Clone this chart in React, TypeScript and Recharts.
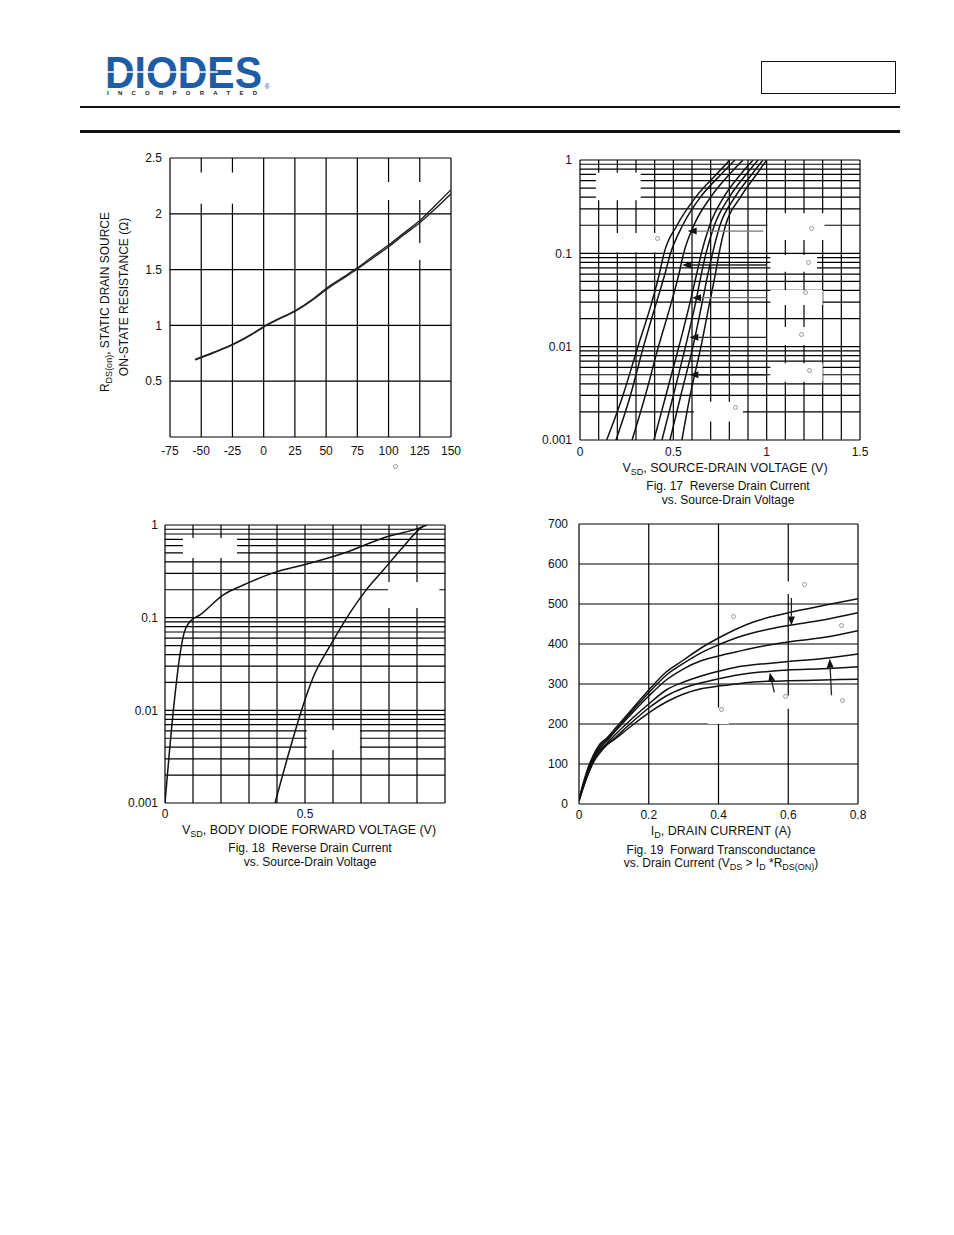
import React from 'react'
import { LineChart, Line, XAxis, YAxis, CartesianGrid, ReferenceArea, ReferenceLine } from 'recharts'

const FONT = '"Liberation Sans", Arial, Helvetica, sans-serif'
const INK = '#111'

// ---- R_DS(on) vs temperature (top left) ----
const tempC = [-55, -40, -25, -10, 0, 10, 25, 40, 50, 62, 75, 87, 100, 112, 125, 137, 150]
const rdsUpper = [0.695, 0.76, 0.83, 0.92, 0.99, 1.05, 1.13, 1.24, 1.33, 1.42, 1.515, 1.615, 1.72, 1.825, 1.94, 2.07, 2.215]
const rdsLower = [0.69, 0.755, 0.825, 0.915, 0.985, 1.045, 1.125, 1.235, 1.32, 1.41, 1.505, 1.6, 1.705, 1.81, 1.92, 2.04, 2.18]
const tempTicks = [-75, -50, -25, 0, 25, 50, 75, 100, 125, 150]
const rdsTicks = [0, 0.5, 1, 1.5, 2, 2.5]

// ---- log axis ticks shared by Fig 17 / Fig 18 ----
const logTicks = [
  0.001, 0.002, 0.003, 0.004, 0.005, 0.006, 0.007, 0.008, 0.009,
  0.01, 0.02, 0.03, 0.04, 0.05, 0.06, 0.07, 0.08, 0.09,
  0.1, 0.2, 0.3, 0.4, 0.5, 0.6, 0.7, 0.8, 0.9, 1,
]
const logLabels = [1, 0.1, 0.01, 0.001]

// ---- Fig 17: reverse drain current vs source-drain voltage ----
const isLevels = [0.001, 0.003, 0.01, 0.03, 0.06, 0.1, 0.2, 0.4, 0.7, 1]
const vsd1 = [0.143, 0.23, 0.31, 0.385, 0.425, 0.45, 0.52, 0.62, 0.73, 0.803]
const vsd2 = [0.193, 0.27, 0.34, 0.41, 0.455, 0.485, 0.55, 0.645, 0.755, 0.83]
const vsd3 = [0.279, 0.35, 0.42, 0.49, 0.53, 0.555, 0.61, 0.7, 0.8, 0.873]
const vsd4 = [0.396, 0.46, 0.53, 0.59, 0.625, 0.65, 0.695, 0.77, 0.86, 0.927]
const vsd5 = [0.439, 0.5, 0.565, 0.62, 0.65, 0.675, 0.72, 0.8, 0.89, 0.954]
const vsd6 = [0.482, 0.54, 0.605, 0.655, 0.685, 0.71, 0.75, 0.83, 0.92, 0.98]
const vsd7 = [0.546, 0.59, 0.648, 0.695, 0.725, 0.745, 0.78, 0.86, 0.945, 1.0]
const vsdTicks = [0, 0.1, 0.2, 0.3, 0.4, 0.5, 0.6, 0.7, 0.8, 0.9, 1, 1.1, 1.2, 1.3, 1.4, 1.5]
const vsdLabels = [0, 0.5, 1, 1.5]

// white-outs where the legend text was removed: [x1, x2, y1, y2]
const fig17Masks = [
  [0.085, 0.325, 0.37, 0.73],
  [0.12, 0.43, 0.103, 0.165],
  [1.005, 1.31, 0.139, 0.268],
  [1.02, 1.27, 0.0636, 0.096],
  [1.02, 1.3, 0.0279, 0.0405],
  [1.02, 1.25, 0.0104, 0.0162],
  [1.02, 1.3, 0.00422, 0.00664],
  [0.61, 0.873, 0.00158, 0.00257],
]
const fig17Arrows = [
  { from: [0.982, 0.173], to: [0.577, 0.173], color: '#777' },
  { from: [1.0, 0.075], to: [0.547, 0.075], color: '#222' },
  { from: [1.0, 0.0335], to: [0.6, 0.0335], color: '#777' },
  { from: [1.0, 0.0126], to: [0.586, 0.0126], color: '#222' },
  { from: [1.0, 0.005], to: [0.586, 0.005], color: '#222' },
]

// ---- Fig 18: body diode forward voltage ----
const diodeAx = [0, 0.03, 0.054, 0.068, 0.089, 0.125, 0.208, 0.28, 0.4, 0.494, 0.637, 0.792, 0.905, 0.935]
const diodeAy = [0.001, 0.0101, 0.041, 0.068, 0.091, 0.107, 0.176, 0.225, 0.314, 0.37, 0.495, 0.748, 0.92, 1.0]
const diodeBx = [0.393, 0.446, 0.488, 0.53, 0.595, 0.637, 0.714, 0.78, 0.851, 0.905, 0.929]
const diodeBy = [0.001, 0.0038, 0.0101, 0.023, 0.053, 0.087, 0.191, 0.327, 0.584, 0.88, 1.0]
const vfTicks = [0, 0.1, 0.2, 0.3, 0.4, 0.5, 0.6, 0.7, 0.8, 0.9, 1]
const vfLabels = [0, 0.5]
const fig18Masks = [
  [0.064, 0.257, 0.44, 0.724],
  [0.796, 0.98, 0.127, 0.243],
  [0.506, 0.696, 0.00374, 0.00615],
]

// ---- Fig 19: forward transconductance vs drain current ----
const idA = [0, 0.01, 0.02, 0.03, 0.04, 0.06, 0.08, 0.1, 0.15, 0.2, 0.25, 0.3, 0.35, 0.4, 0.45, 0.5, 0.55, 0.6, 0.7, 0.8]
const gfs1 = [10, 45, 75, 100, 120, 150, 165, 185, 235, 285, 330, 360, 390, 415, 437, 455, 468, 478, 496, 513]
const gfs2 = [10, 42, 70, 95, 115, 145, 162, 180, 230, 278, 322, 352, 378, 398, 415, 428, 438, 446, 460, 478]
const gfs3 = [10, 40, 67, 92, 112, 140, 158, 178, 225, 270, 310, 338, 358, 370, 380, 390, 398, 405, 416, 433]
const gfs4 = [8, 38, 64, 88, 108, 135, 152, 170, 212, 250, 285, 305, 320, 332, 342, 348, 352, 356, 364, 375]
const gfs5 = [8, 36, 62, 85, 105, 130, 148, 163, 203, 240, 270, 290, 303, 313, 322, 328, 332, 335, 338, 343]
const gfs6 = [8, 35, 60, 82, 102, 128, 148, 160, 195, 228, 255, 275, 288, 295, 300, 305, 307, 308, 310, 312]
const idTicks = [0, 0.2, 0.4, 0.6, 0.8]
const gfsTicks = [0, 100, 200, 300, 400, 500, 600, 700]
const fig19Masks = [
  [0.57, 0.7, 525, 556],
  [0.37, 0.43, 200, 241],
  [0.57, 0.63, 238, 271],
]
const fig19Arrows = [
  { from: [0.609, 515], to: [0.609, 446], color: '#222' },
  { from: [0.56, 279], to: [0.547, 329], color: '#222' },
  { from: [0.724, 272], to: [0.719, 363], color: '#222' },
]

// leftover degree signs from the removed labels
const degreeMarks = [
  [395, 466], [657, 238], [811, 228], [808, 262], [805, 292], [801, 334], [809, 370], [735, 407],
  [733, 616], [804, 584], [841, 625], [721, 709], [785, 696], [842, 700],
]

const toPts = (xs: number[], ys: number[]) => xs.map((x, i) => ({ x, y: ys[i] }))

const tickStyle = { fill: INK, fontSize: 12, fontFamily: FONT }
const GRID_W = 1.2

function arrowShape(color: string) {
  return (p: any) => {
    const { x1, y1, x2, y2 } = p
    const a = Math.atan2(y2 - y1, x2 - x1)
    const len = 9
    const half = 3.5
    const bx = x2 - len * Math.cos(a)
    const by = y2 - len * Math.sin(a)
    const px = -Math.sin(a) * half
    const py = Math.cos(a) * half
    return (
      <g>
        <line x1={x1} y1={y1} x2={bx} y2={by} stroke={color} strokeWidth={1.3} />
        <polygon points={`${x2},${y2} ${bx + px},${by + py} ${bx - px},${by - py}`} fill="#111" />
      </g>
    )
  }
}

function masks(list: number[][]) {
  return list.map((m, i) => (
    <ReferenceArea key={'m' + i} x1={m[0]} x2={m[1]} y1={m[2]} y2={m[3]} fill="#fff" fillOpacity={1} stroke="none" ifOverflow="hidden" />
  ))
}

function arrows(list: { from: number[]; to: number[]; color: string }[]) {
  return list.map((a, i) => (
    <ReferenceLine
      key={'a' + i}
      segment={[{ x: a.from[0], y: a.from[1] }, { x: a.to[0], y: a.to[1] }]}
      shape={arrowShape(a.color)}
    />
  ))
}

function RdsChart() {
  const up = toPts(tempC, rdsUpper)
  const lo = toPts(tempC, rdsLower)
  return (
    <LineChart width={331} height={319} margin={{ top: 10, right: 10, bottom: 0, left: 0 }}>
      <CartesianGrid stroke="#000" strokeWidth={GRID_W} />
      <XAxis type="number" dataKey="x" domain={[-75, 150]} ticks={tempTicks} interval={0} height={30}
        axisLine={false} tickLine={false} tickSize={0} tickMargin={9} tick={tickStyle} allowDataOverflow />
      <YAxis type="number" dataKey="y" domain={[0, 2.5]} ticks={rdsTicks} interval={0} width={40}
        axisLine={false} tickLine={false} tickSize={0} tickMargin={8} tick={tickStyle}
        tickFormatter={(v) => (v === 0 ? '' : String(v))} allowDataOverflow />
      {masks([[-62, -12, 2.09, 2.37], [92, 135, 2.124, 2.285], [118, 132, 1.586, 1.738]])}
      <Line data={lo} dataKey="y" type="monotone" stroke="#222" strokeWidth={1.4} dot={false} isAnimationActive={false} />
      <Line data={up} dataKey="y" type="monotone" stroke="#222" strokeWidth={1.4} dot={false} isAnimationActive={false} />
    </LineChart>
  )
}

function Fig17() {
  const curves = [vsd1, vsd2, vsd3, vsd4, vsd5, vsd6, vsd7]
  return (
    <LineChart width={330} height={320} margin={{ top: 10, right: 10, bottom: 0, left: 0 }}>
      <CartesianGrid stroke="#000" strokeWidth={GRID_W} />
      <XAxis type="number" dataKey="x" domain={[0, 1.5]} ticks={vsdTicks} interval={0} height={30}
        axisLine={false} tickLine={false} tickSize={0} tickMargin={7} tick={tickStyle}
        tickFormatter={(v) => (vsdLabels.includes(v) ? String(v) : '')} allowDataOverflow />
      <YAxis type="number" dataKey="y" scale="log" domain={[0.001, 1]} ticks={logTicks} interval={0} width={40}
        axisLine={false} tickLine={false} tickSize={0} tickMargin={8} tick={tickStyle}
        tickFormatter={(v) => (logLabels.includes(v) ? String(v) : '')} allowDataOverflow />
      {masks(fig17Masks)}
      {curves.map((c, i) => (
        <Line key={i} data={toPts(c, isLevels)} dataKey="y" type="monotone" stroke="#111" strokeWidth={1.5}
          dot={false} isAnimationActive={false} />
      ))}
      {arrows(fig17Arrows)}
    </LineChart>
  )
}

function Fig18() {
  return (
    <LineChart width={330} height={318} margin={{ top: 10, right: 10, bottom: 0, left: 0 }}>
      <CartesianGrid stroke="#000" strokeWidth={GRID_W} />
      <XAxis type="number" dataKey="x" domain={[0, 1]} ticks={vfTicks} interval={0} height={30}
        axisLine={false} tickLine={false} tickSize={0} tickMargin={6} tick={tickStyle}
        tickFormatter={(v) => (vfLabels.includes(v) ? String(v) : '')} allowDataOverflow />
      <YAxis type="number" dataKey="y" scale="log" domain={[0.001, 1]} ticks={logTicks} interval={0} width={40}
        axisLine={false} tickLine={false} tickSize={0} tickMargin={7} tick={tickStyle}
        tickFormatter={(v) => (logLabels.includes(v) ? String(v) : '')} allowDataOverflow />
      {masks(fig18Masks)}
      <Line data={toPts(diodeAx, diodeAy)} dataKey="y" type="monotone" stroke="#111" strokeWidth={1.5} dot={false} isAnimationActive={false} />
      <Line data={toPts(diodeBx, diodeBy)} dataKey="y" type="monotone" stroke="#111" strokeWidth={1.5} dot={false} isAnimationActive={false} />
    </LineChart>
  )
}

function Fig19() {
  const curves = [gfs1, gfs2, gfs3, gfs4, gfs5, gfs6]
  return (
    <LineChart width={329} height={320} margin={{ top: 10, right: 10, bottom: 0, left: 0 }}>
      <CartesianGrid stroke="#000" strokeWidth={GRID_W} />
      <XAxis type="number" dataKey="x" domain={[0, 0.8]} ticks={idTicks} interval={0} height={30}
        axisLine={false} tickLine={false} tickSize={0} tickMargin={6} tick={tickStyle} allowDataOverflow />
      <YAxis type="number" dataKey="y" domain={[0, 700]} ticks={gfsTicks} interval={0} width={40}
        axisLine={false} tickLine={false} tickSize={0} tickMargin={11} tick={tickStyle} allowDataOverflow />
      {masks(fig19Masks)}
      {curves.map((c, i) => (
        <Line key={i} data={toPts(idA, c)} dataKey="y" type="monotone" stroke="#111" strokeWidth={1.5}
          dot={false} isAnimationActive={false} />
      ))}
      {arrows(fig19Arrows)}
    </LineChart>
  )
}

const Sub = ({ children }: { children: React.ReactNode }) => (
  <span style={{ fontSize: 9, verticalAlign: -3 }}>{children}</span>
)

function Txt({ x, y, size = 12, rotate = false, children }: { x: number; y: number; size?: number; rotate?: boolean; children: React.ReactNode }) {
  return (
    <div style={{
      position: 'absolute', left: x, top: y, whiteSpace: 'nowrap', lineHeight: 1, fontSize: size,
      transform: rotate ? 'translate(-50%,-50%) rotate(-90deg)' : 'translate(-50%,-50%)',
    }}>{children}</div>
  )
}

function Header() {
  return (
    <>
      <svg style={{ position: 'absolute', left: 100, top: 36 }} width={180} height={66}>
        <text x={5} y={52} fontFamily={FONT} fontWeight={900} fontSize={45} fill="#1f5ca6"
          textLength={157} lengthAdjust="spacingAndGlyphs">DIODES</text>
        <line x1={5} y1={36} x2={118} y2={36} stroke="#fff" strokeWidth={1.6} />
        <text x={7} y={58.5} fontFamily={FONT} fontWeight={700} fontSize={6} fill="#222"
          textLength={150} lengthAdjust="spacing">INCORPORATED</text>
        <text x={164.5} y={53} fontFamily={FONT} fontSize={7} fill="#1f5ca6">®</text>
      </svg>
      <div style={{ position: 'absolute', left: 761, top: 61, width: 133, height: 31, border: '1.5px solid #111' }} />
      <div style={{ position: 'absolute', left: 80, top: 106, width: 820, height: 2, background: '#111' }} />
      <div style={{ position: 'absolute', left: 80, top: 130, width: 820, height: 3, background: '#111' }} />
    </>
  )
}

export default function App() {
  return (
    <div style={{ position: 'absolute', left: 0, top: 0, width: 954, height: 1235, background: '#fff', color: INK, fontFamily: FONT, overflow: 'hidden' }}>
      <Header />

      <div style={{ position: 'absolute', left: 130, top: 148 }}><RdsChart /></div>
      <Txt x={106} y={302} rotate>R<Sub>DS(on)</Sub>, STATIC DRAIN SOURCE</Txt>
      <Txt x={124} y={297} rotate>ON-STATE RESISTANCE (Ω)</Txt>

      <div style={{ position: 'absolute', left: 540, top: 150 }}><Fig17 /></div>
      <Txt x={725} y={469} size={12.5}>V<Sub>SD</Sub>, SOURCE-DRAIN VOLTAGE (V)</Txt>
      <Txt x={728} y={486}>Fig. 17&nbsp; Reverse Drain Current</Txt>
      <Txt x={728} y={500}>vs. Source-Drain Voltage</Txt>

      <div style={{ position: 'absolute', left: 125, top: 515 }}><Fig18 /></div>
      <Txt x={309} y={831} size={12.5}>V<Sub>SD</Sub>, BODY DIODE FORWARD VOLTAGE (V)</Txt>
      <Txt x={310} y={848}>Fig. 18&nbsp; Reverse Drain Current</Txt>
      <Txt x={310} y={862}>vs. Source-Drain Voltage</Txt>

      <div style={{ position: 'absolute', left: 539, top: 514 }}><Fig19 /></div>
      <Txt x={721} y={832} size={12.5}>I<Sub>D</Sub>, DRAIN CURRENT (A)</Txt>
      <Txt x={721} y={850}>Fig. 19&nbsp; Forward Transconductance</Txt>
      <Txt x={721} y={864}>vs. Drain Current (V<Sub>DS</Sub> &gt; I<Sub>D</Sub> *R<Sub>DS(ON)</Sub>)</Txt>

      {degreeMarks.map((d, i) => (
        <div key={i} style={{ position: 'absolute', left: d[0] - 2, top: d[1] - 2, width: 3, height: 3, borderRadius: 3, border: '0.8px solid #999' }} />
      ))}
    </div>
  )
}
